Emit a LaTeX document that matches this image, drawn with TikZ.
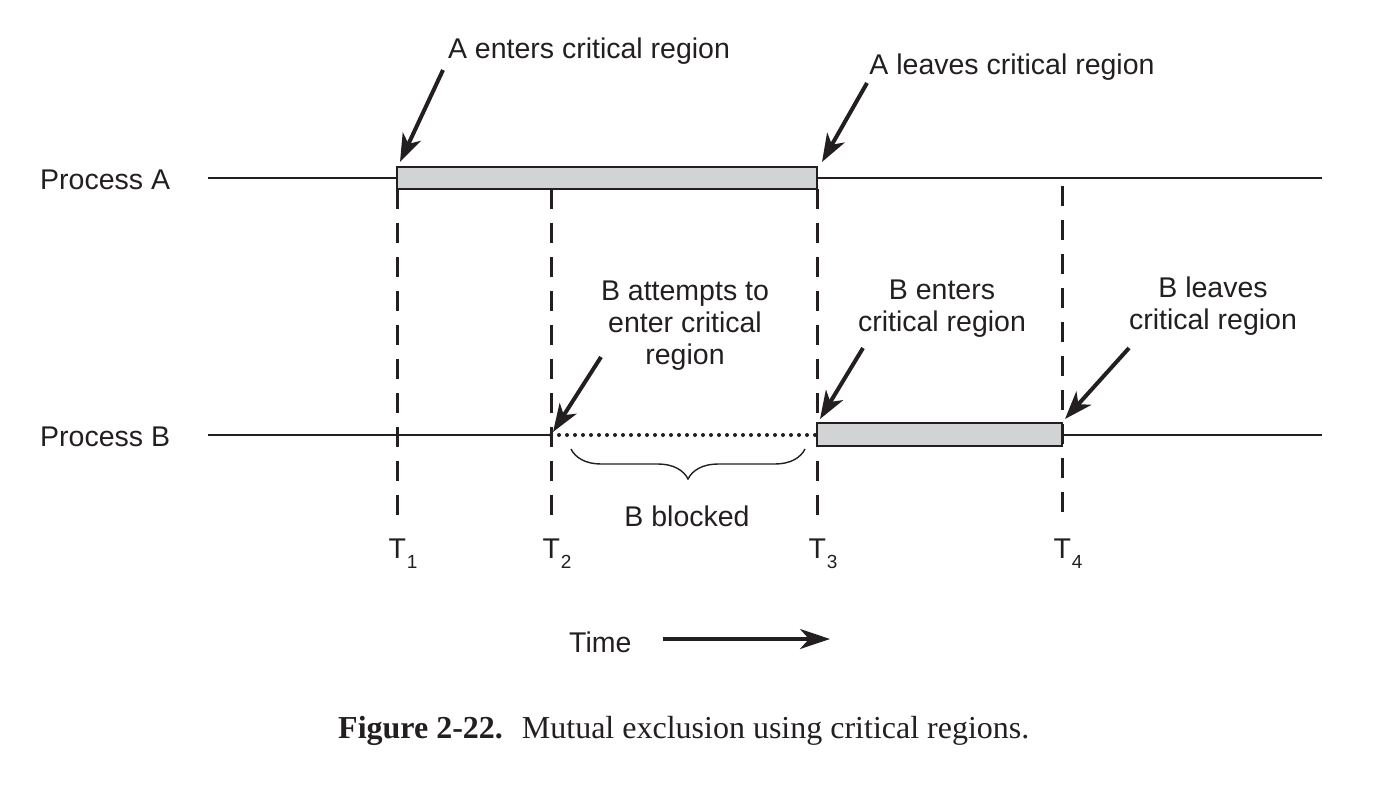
\documentclass[tikz,border=0pt]{standalone}
\usepackage{fontspec}
\setmainfont{Liberation Serif}
\newfontfamily\hv{Liberation Sans}
\usetikzlibrary{arrows.meta,decorations.pathreplacing}
\definecolor{critgray}{RGB}{209,211,212}
\definecolor{ink}{RGB}{35,31,32}
\begin{document}
\begin{tikzpicture}[x=1pt,y=-1pt,
  lbl/.style={font=\hv\fontsize{28.5}{32}\selectfont, inner sep=0pt, align=center, text=ink},
  track/.style={line width=2.5pt, draw=ink},
  crit/.style={line width=2.8pt, draw=ink, fill=critgray},
  guide/.style={line width=3pt, draw=ink, dash pattern=on 20pt off 14pt},
  blocked/.style={line width=4pt, draw=ink, dash pattern=on 0pt off 8pt, line cap=round},
  pointer/.style={line width=4pt, draw=ink, -{Stealth[length=28pt,width=20pt,inset=8pt]}},
  timearrow/.style={line width=3.5pt, draw=ink, -{Stealth[length=30pt,width=20pt,inset=9pt]}},
  bracestyle/.style={line width=1.4pt, draw=ink, decorate, decoration={brace, amplitude=30pt}},
  ]
\useasboundingbox (0,0) rectangle (1375,788);

% key coordinates
\coordinate (a0) at (208,178);
\coordinate (a1) at (1322,178);
\coordinate (b0) at (208,435);
\coordinate (b1) at (1322,435);
\coordinate (t2) at (551,435);
\coordinate (t3) at (817,435);
\coordinate (t4) at (1062,435);
\coordinate (aBoxTL) at (397,167);
\coordinate (aBoxBR) at (817,189);
\coordinate (bBoxTL) at (817,423);
\coordinate (bBoxBR) at (1062,446);

% guides
\coordinate (g1s) at (397,189); \coordinate (g1e) at (397,525);
\coordinate (g2s) at (551,189); \coordinate (g2e) at (551,525);
\coordinate (g3s) at (817,189); \coordinate (g3e) at (817,525);
\coordinate (g4s) at (1062,186); \coordinate (g4e) at (1062,525);
\draw[guide] (g1s) -- (g1e);
\draw[guide] (g2s) -- (g2e);
\draw[guide] (g3s) -- (g3e);
\draw[guide] (g4s) -- (g4e);

% tracks
\draw[track] (a0) -- (a1);
\draw[track] (b0) -- (t2);
\draw[blocked] (t2) -- (t3);
\draw[track] (t4) -- (b1);
\draw[crit] (aBoxTL) rectangle (aBoxBR);
\draw[crit] (bBoxTL) rectangle (bBoxBR);

% labels
\node[lbl, anchor=base west] (pa) at (40,189) {Process A};
\node[lbl, anchor=base west] (pb) at (40,446) {Process B};

\node[lbl, anchor=base] (aenter) at (589,58) {A enters critical region};
\node[lbl, anchor=base] (aleave) at (1012,74) {A leaves critical region};
\node[lbl, anchor=base] (battempt) at (685,364) {B attempts to\\enter critical\\region};
\node[lbl, anchor=base] (benter) at (942,331) {B enters\\critical region};
\node[lbl, anchor=base] (bleave) at (1213,329) {B leaves\\critical region};
\node[lbl, anchor=base] (bblock) at (687,526) {B blocked};

\newcommand{\tsub}[1]{T\hspace{1pt}\raisebox{-10pt}{\fontsize{19}{19}\selectfont #1}}
\node[lbl, anchor=base west] (T1) at (388.3,558) {\tsub{1}};
\node[lbl, anchor=base west] (T2) at (542.3,558) {\tsub{2}};
\node[lbl, anchor=base west] (T3) at (808.3,558) {\tsub{3}};
\node[lbl, anchor=base west] (T4) at (1053.3,558) {\tsub{4}};

% pointers
\coordinate (pAe) at (443,70);  \coordinate (qAe) at (400,162);
\coordinate (pAl) at (867,83);  \coordinate (qAl) at (822,162);
\coordinate (pBa) at (601,357); \coordinate (qBa) at (553,432);
\coordinate (pBe) at (863,348); \coordinate (qBe) at (820,419);
\coordinate (pBl) at (1129,348); \coordinate (qBl) at (1065,419);
\draw[pointer] (pAe) -- (qAe);
\draw[pointer] (pAl) -- (qAl);
\draw[pointer] (pBa) -- (qBa);
\draw[pointer] (pBe) -- (qBe);
\draw[pointer] (pBl) -- (qBl);

% brace
\coordinate (brR) at (805,449);
\coordinate (brL) at (571,449);
\draw[bracestyle] (brR) -- (brL);

% time
\node[lbl, anchor=base west] (time) at (569,652) {Time};
\coordinate (tmS) at (663,639);
\coordinate (tmE) at (830,639);
\draw[timearrow] (tmS) -- (tmE);

% caption
\node[anchor=base west, inner sep=0pt, text=ink, font=\fontsize{32}{36}\selectfont] (cap) at (338,738)
  {\textbf{Figure 2-22.}\hspace{19pt}Mutual exclusion using critical regions.};
\end{tikzpicture}
\end{document}
